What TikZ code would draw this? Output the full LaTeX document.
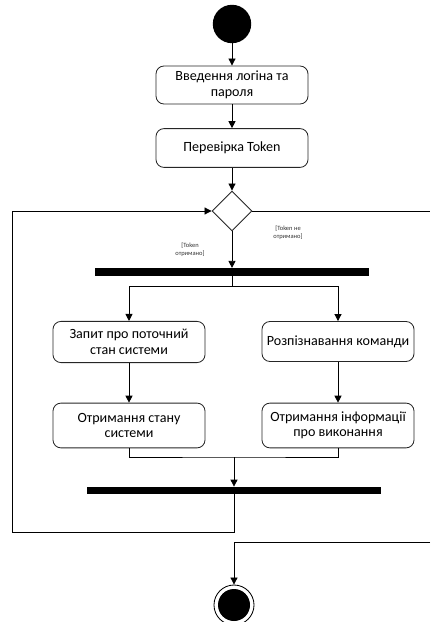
\documentclass[tikz,border=0pt]{standalone}
\usepackage{fontspec}
\setmainfont{Carlito}
\usetikzlibrary{arrows.meta,shapes.geometric}

\tikzset{
  act/.style={draw=black!85,rounded corners=0.2cm,line width=0.6pt,minimum width=3.8cm,
    minimum height=1cm,align=center,inner sep=2pt,font=\fontsize{10}{11}\selectfont},
  bar/.style={fill=black,inner sep=0pt,minimum height=0.19cm},
  guard/.style={align=center,inner sep=0pt,font=\fontsize{4.6}{5.6}\selectfont,text=black!80},
  flow/.style={line width=0.6pt,-{Triangle[length=5pt,width=5pt]}},
  wire/.style={line width=0.6pt}
}

\begin{document}
\begin{tikzpicture}[x=0.025cm,y=-0.025cm]
  \useasboundingbox (0,0) rectangle (430,622);
  \node[circle,fill=black,minimum size=0.96cm,inner sep=0pt] (start) at (232,24) {};
  \node[act,minimum height=0.95cm] (login) at (232,85) {Введення логіна та\\пароля};
  \node[act,minimum height=0.97cm] (check) at (232,148) {Перевірка Token};
  \node[diamond,draw=black!85,line width=0.6pt,minimum size=1cm,inner sep=0pt,aspect=1] (dec) at (232,211) {};
  \node[bar,minimum width=6.83cm] (fork) at (232,272) {};
  \node[act,minimum height=1.03cm] (query) at (129,342) {Запит про поточний\\стан системи};
  \node[act] (recog) at (338,341.5) {Розпізнавання команди};
  \node[act,minimum height=1.12cm] (state) at (129,425.5) {Отримання стану\\системи};
  \node[act,minimum height=1.12cm] (info) at (338,425.5) {Отримання інформації\\про виконання};
  \node[bar,minimum width=7.33cm,minimum height=0.18cm] (join) at (234,490.5) {};
  \node[circle,draw=black,line width=0.6pt,minimum size=1cm,inner sep=0pt] (fin) at (234,605) {};
  \node[circle,fill=black,minimum size=0.8cm,inner sep=0pt] (finin) at (fin) {};
  \node[guard] (gyes) at (190,250) {[Token\\отримано]};
  \node[guard] (gno) at (288,233) {[Token не\\отримано]};
  \coordinate (fj) at (232,286);
  \coordinate (jj) at (234,457);
  \coordinate (loop) at (234,532);
  \coordinate (outr) at (430,211);
  \coordinate (inr) at (430,542);

  \draw[flow] (start) -- (login);
  \draw[flow] (login) -- (check);
  \draw[flow] (check) -- (dec);
  \draw[flow] (dec.south) -- (dec.south |- fork.north);
  \draw[wire] (fork.south -| fj) -- (fj);
  \draw[flow] (fj) -| (query.north);
  \draw[flow] (fj) -| (recog.north);
  \draw[flow] (query) -- (state);
  \draw[flow] (recog) -- (info);
  \draw[wire] (state.south) |- (jj) -| (info.south);
  \draw[flow] (jj) -- (jj |- join.north);
  \draw[flow] (join.south -| loop) -- (loop) -- (12,532) |- (dec.west);
  \draw[wire] (dec.east) -- (outr);
  \draw[flow] (inr) -| (fin.north);
\end{tikzpicture}
\end{document}
